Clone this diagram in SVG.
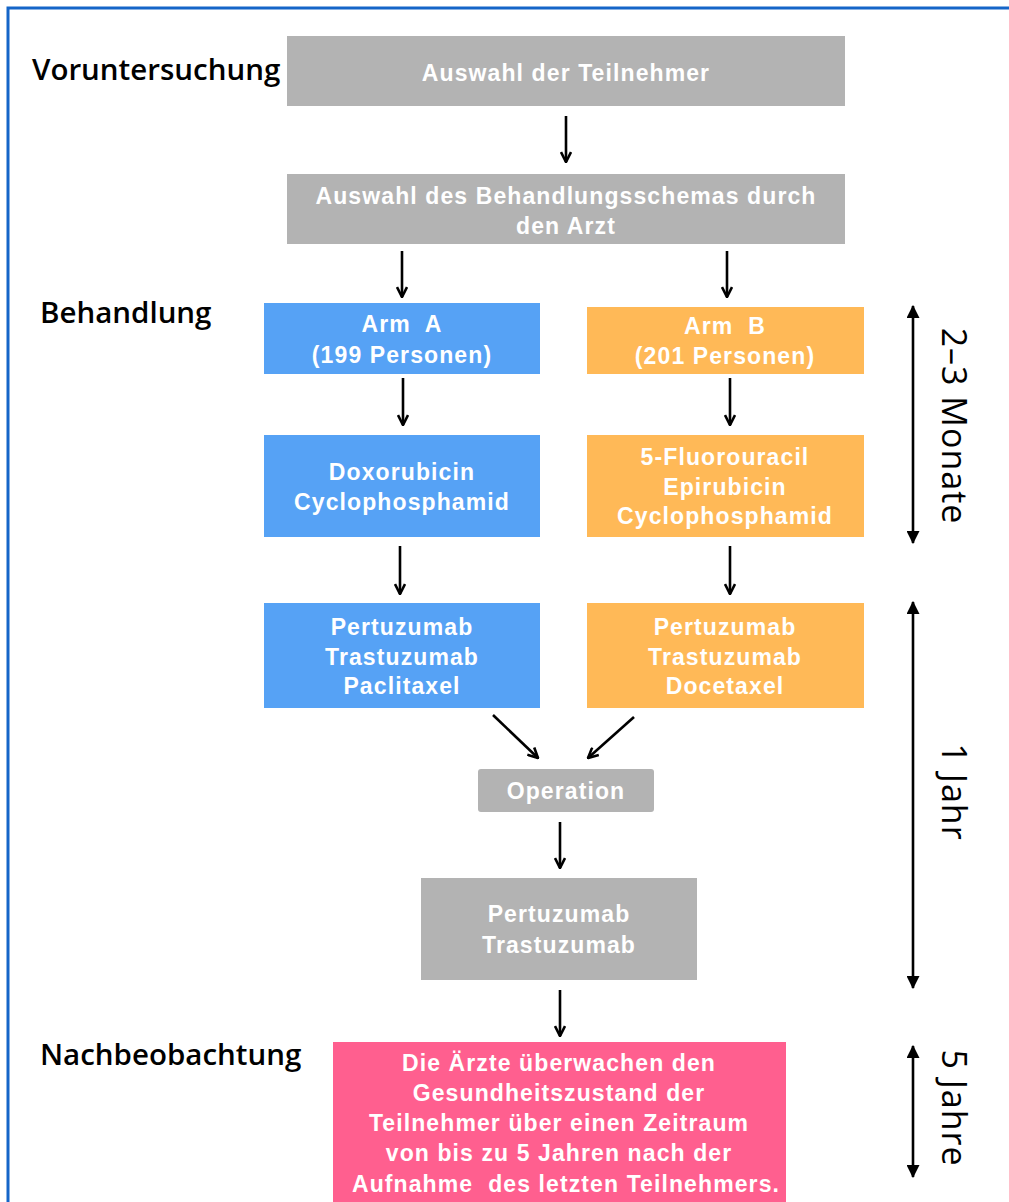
<svg xmlns="http://www.w3.org/2000/svg" width="1009" height="1202" viewBox="0 0 1009 1202">
<defs>
<marker id="ah" viewBox="0 0 12 12" refX="11" refY="6" markerWidth="12" markerHeight="12" markerUnits="userSpaceOnUse" orient="auto">
<path d="M1,1 L11,6 L1,11" fill="none" stroke="#000" stroke-width="2.6"/>
</marker>
<marker id="dh" viewBox="0 0 12 12" refX="11" refY="6" markerWidth="13" markerHeight="13" markerUnits="userSpaceOnUse" orient="auto-start-reverse">
<path d="M0,0 L12,6 L0,12 Z" fill="#000"/>
</marker>
</defs>
<style>
.bt{font-family:"Liberation Sans",Arial,sans-serif;font-weight:bold;font-size:23px;letter-spacing:1.1px;fill:#fff;text-anchor:middle;dominant-baseline:central;white-space:pre}
.lbl{font-family:"Open Sans","DejaVu Sans",sans-serif;font-weight:600;font-size:29.5px;fill:#000}
.rot{font-family:"Open Sans","DejaVu Sans",sans-serif;font-size:34px;letter-spacing:1px;fill:#000;text-anchor:middle;dominant-baseline:central}
.gray{fill:#b3b3b3}
.blue{fill:#56a2f5}
.orange{fill:#ffb957}
.pink{fill:#ff5f8f}
.ar{stroke:#000;stroke-width:2.6;fill:none;marker-end:url(#ah)}
.dr{stroke:#000;stroke-width:2.6;fill:none;marker-start:url(#dh);marker-end:url(#dh)}
</style>
<rect x="0" y="0" width="1009" height="1202" fill="#fff"/>
<rect x="8" y="8" width="1020" height="1220" fill="none" stroke="#1565c8" stroke-width="3"/>
<text class="lbl" x="32" y="80">Voruntersuchung</text>
<text class="lbl" x="40" y="323">Behandlung</text>
<text class="lbl" x="40" y="1065">Nachbeobachtung</text>
<g id="n1"><rect class="gray" x="287" y="36" width="558" height="70"/><text class="bt" x="566" y="73">Auswahl der Teilnehmer</text></g>
<g id="n2"><rect class="gray" x="287" y="174" width="558" height="70"/><text class="bt" x="566" y="196">Auswahl des Behandlungsschemas durch</text><text class="bt" x="566" y="226">den Arzt</text></g>
<g id="n3"><rect class="blue" x="264" y="303" width="276" height="71"/><text class="bt" x="402" y="324" xml:space="preserve">Arm  A</text><text class="bt" x="402" y="355">(199 Personen)</text></g>
<g id="n4"><rect class="orange" x="587" y="307" width="277" height="67"/><text class="bt" x="725" y="326" xml:space="preserve">Arm  B</text><text class="bt" x="725" y="356">(201 Personen)</text></g>
<g id="n5"><rect class="blue" x="264" y="435" width="276" height="102"/><text class="bt" x="402" y="472">Doxorubicin</text><text class="bt" x="402" y="502">Cyclophosphamid</text></g>
<g id="n6"><rect class="orange" x="587" y="435" width="277" height="102"/><text class="bt" x="725" y="457">5-Fluorouracil</text><text class="bt" x="725" y="487">Epirubicin</text><text class="bt" x="725" y="516">Cyclophosphamid</text></g>
<g id="n7"><rect class="blue" x="264" y="603" width="276" height="105"/><text class="bt" x="402" y="627">Pertuzumab</text><text class="bt" x="402" y="657">Trastuzumab</text><text class="bt" x="402" y="686">Paclitaxel</text></g>
<g id="n8"><rect class="orange" x="587" y="603" width="277" height="105"/><text class="bt" x="725" y="627">Pertuzumab</text><text class="bt" x="725" y="657">Trastuzumab</text><text class="bt" x="725" y="686">Docetaxel</text></g>
<g id="n9"><rect class="gray" x="478" y="769" width="176" height="43" rx="3"/><text class="bt" x="566" y="791">Operation</text></g>
<g id="n10"><rect class="gray" x="421" y="878" width="276" height="102"/><text class="bt" x="559" y="914">Pertuzumab</text><text class="bt" x="559" y="945">Trastuzumab</text></g>
<g id="n11"><rect class="pink" x="333" y="1042" width="453" height="170"/><text class="bt" x="559" y="1063">Die Ärzte überwachen den</text><text class="bt" x="559" y="1093">Gesundheitszustand der</text><text class="bt" x="559" y="1123">Teilnehmer über einen Zeitraum</text><text class="bt" x="559" y="1153">von bis zu 5 Jahren nach der</text><text class="bt" x="566" y="1184" xml:space="preserve">Aufnahme  des letzten Teilnehmers.</text></g>
<g id="connectors">
<line class="ar" x1="566" y1="116" x2="566" y2="162"/>
<line class="ar" x1="402" y1="251" x2="402" y2="297"/>
<line class="ar" x1="727" y1="251" x2="727" y2="297"/>
<line class="ar" x1="403" y1="378" x2="403" y2="425"/>
<line class="ar" x1="730" y1="378" x2="730" y2="425"/>
<line class="ar" x1="400" y1="546" x2="400" y2="594"/>
<line class="ar" x1="730" y1="546" x2="730" y2="594"/>
<line class="ar" x1="493" y1="715" x2="538" y2="758"/>
<line class="ar" x1="634" y1="717" x2="588" y2="758"/>
<line class="ar" x1="560" y1="822" x2="560" y2="868"/>
<line class="ar" x1="560" y1="990" x2="560" y2="1036"/>
<line class="dr" x1="913" y1="306" x2="913" y2="543"/>
<line class="dr" x1="913" y1="602" x2="913" y2="988"/>
<line class="dr" x1="913" y1="1046" x2="913" y2="1177"/>
</g>
<text class="rot" transform="translate(955,426) rotate(90)">2–3 Monate</text>
<text class="rot" transform="translate(955,792) rotate(90)">1 Jahr</text>
<text class="rot" transform="translate(955,1108) rotate(90)">5 Jahre</text>
</svg>
